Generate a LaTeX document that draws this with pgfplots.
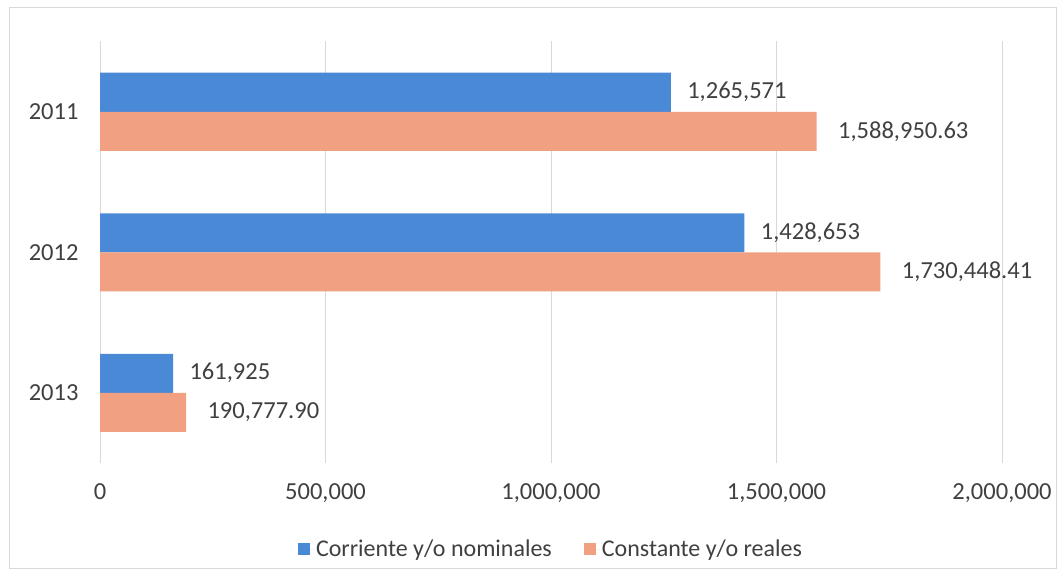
\documentclass[border=0pt]{standalone}
\usepackage{pgfplots}
\pgfplotsset{compat=1.18}
\usepackage{fontspec}
\setmainfont{Carlito}
\definecolor{cblue}{RGB}{74,137,214}
\definecolor{csalmon}{RGB}{241,160,130}
\definecolor{ctext}{RGB}{64,64,64}
\definecolor{cgrid}{RGB}{217,217,217}
\begin{document}
\begin{tikzpicture}
\path[use as bounding box] (-100pt,-113pt) rectangle (964pt,463pt);
\draw[cgrid, line width=1pt] (-90pt,-105pt) rectangle (956pt,455pt);
\begin{axis}[
  at={(0pt,0pt)}, anchor=south west,
  scale only axis,
  width=902pt, height=421.5pt,
  xbar,
  xmin=0, xmax=2000000,
  ymin=-0.5, ymax=2.5,
  ytick={0,1,2}, yticklabels={2013,2012,2011},
  xtick={0,500000,1000000,1500000,2000000},
  xticklabels={0,{500,000},{1,000,000},{1,500,000},{2,000,000}},
  scaled x ticks=false,
  xticklabel style={font=\fontsize{24.5}{28}\selectfont, text=ctext, yshift=-17pt},
  yticklabel style={font=\fontsize{24.5}{28}\selectfont, text=ctext, xshift=-18pt},
  major tick length=0pt,
  axis line style={draw=none},
  xmajorgrids, grid style={cgrid, line width=1pt},
  bar width=39pt,
  point meta=explicit symbolic,
  nodes near coords,
  every node near coord/.append style={font=\fontsize{24.5}{28}\selectfont, text=ctext, anchor=west},
  legend style={at={(0.5,-0.205)}, anchor=center, draw=none, legend columns=2,
     font=\fontsize{24}{28}\selectfont, text=ctext,
     /tikz/every even column/.append style={column sep=30pt}},
  legend image code/.code={\fill[#1] (0pt,-6pt) rectangle (12pt,6pt); \path (0pt,0pt) -- (16pt,0pt);},
]
\addplot[fill=cblue, draw=none, bar shift=19.5pt,
  every node near coord/.append style={xshift=13pt}]
  coordinates {(1265571,2) [{1,265,571}] (1428653,1) [{1,428,653}] (161925,0) [{161,925}]};
\addplot[fill=csalmon, draw=none, bar shift=-19.5pt,
  every node near coord/.append style={xshift=18pt}]
  coordinates {(1588950.63,2) [{1,588,950.63}] (1730448.41,1) [{1,730,448.41}] (190777.90,0) [{190,777.90}]};
\legend{Corriente y/o nominales, Constante y/o reales}
\end{axis}
\end{tikzpicture}
\end{document}
